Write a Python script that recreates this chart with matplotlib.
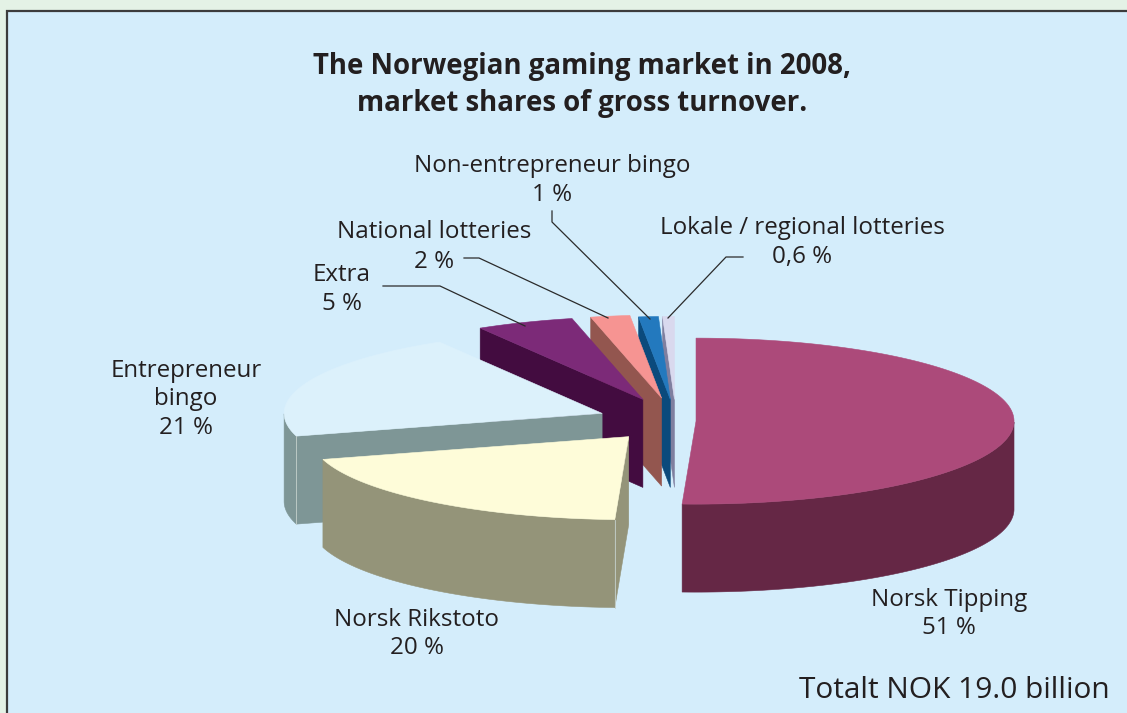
import numpy as np
import matplotlib
matplotlib.use("Agg")
import matplotlib.pyplot as plt
from matplotlib.patches import Polygon, Rectangle

# shares as printed on the chart, clockwise from twelve o'clock
names = ["Norsk Tipping", "Norsk Rikstoto", "Entrepreneur bingo", "Extra",
         "National lotteries", "Non-entrepreneur bingo", "Lokale / regional lotteries"]
shares = [51, 20, 21, 5, 2, 1, 0.6]
share_text = ["51 %", "20 %", "21 %", "5 %", "2 %", "1 %", "0,6 %"]

top_colors = ["#ac4a7a", "#fefcd9", "#dcf1fb", "#7c2a78", "#f69492", "#2379be", "#d9d9ee"]
side_colors = ["#652745", "#949479", "#7e9696", "#430c40", "#93564f", "#0b4a7c", "#7f7f9f"]
explode = [0.063, 0.24, 0.25, 0.28, 0.28, 0.26, 0.26]
seam_slices = [1, 2]

# pie geometry in figure pixels
cx, cy = 676, 421
rx, ry = 318, 83
depth = 88

plt.rcParams["font.family"] = ["Open Sans", "DejaVu Sans"]
text_color = "#231f20"

fig = plt.figure(figsize=(11.27, 7.13), dpi=100, facecolor="#e4f2e6")
ax = fig.add_axes([0, 0, 1, 1])
ax.set_xlim(0, 1127)
ax.set_ylim(713, 0)
ax.axis("off")

ax.add_patch(Rectangle((7, 11), 1130, 710, facecolor="#d4edfb", edgecolor="#3c3c3c", linewidth=1.6, zorder=0))


def rim(a, x0, y0):
    return x0 + rx * np.cos(a), y0 - ry * np.sin(a)


angles = 360 * np.cumsum([0] + shares) / sum(shares)
starts = np.radians(90 - angles[:-1])
ends = np.radians(90 - angles[1:])
mids = (starts + ends) / 2

# painted from the back slices to the front ones
order = [6, 5, 4, 3, 2, 1, 0]
z = 2
for i in order:
    a0, a1 = starts[i], ends[i]
    x0 = cx + explode[i] * rx * np.cos(mids[i])
    y0 = cy - explode[i] * ry * np.sin(mids[i])
    t = np.linspace(a0, a1, 160)
    xs, ys = rim(t, x0, y0)

    # cut face at the start of the slice
    if np.cos(a0) < 0:
        xr, yr = rim(a0, x0, y0)
        face = [(x0, y0), (xr, yr), (xr, yr + depth), (x0, y0 + depth)]
        ax.add_patch(Polygon(face, closed=True, facecolor=side_colors[i],
                             edgecolor=side_colors[i], linewidth=0.4, zorder=z))
        z += 1

    # outer wall, only the part that faces the viewer
    front = np.sin(t) <= 0
    if front.any():
        wx, wy = xs[front], ys[front]
        wall = np.vstack([np.column_stack([wx, wy]),
                          np.column_stack([wx[::-1], wy[::-1] + depth])])
        ax.add_patch(Polygon(wall, closed=True, facecolor=side_colors[i],
                             edgecolor=side_colors[i], linewidth=0.4, zorder=z))
        z += 1

    top = np.vstack([[x0, y0], np.column_stack([xs, ys])])
    ax.add_patch(Polygon(top, closed=True, facecolor=top_colors[i],
                         edgecolor=top_colors[i], linewidth=0.4, zorder=z))
    z += 1

    if i in seam_slices:
        xr, yr = rim(a0, x0, y0)
        ax.plot([xr, xr], [yr, yr + depth], color="#c5d0cc", linewidth=0.6, zorder=z)
        z += 1

# leader lines
leaders = [
    [(383, 286), (440, 286), (525, 326)],
    [(464, 258), (479, 258), (608, 318)],
    [(552, 211), (552, 222), (650, 319)],
    [(743, 257), (726, 257), (668, 318)],
]
for pts in leaders:
    ax.plot([p[0] for p in pts], [p[1] for p in pts], color="#2b2b2b", linewidth=0.9, zorder=40)

# each label line is its own text: x centre, then one baseline per line
label_x = [949, 417, 186, 342, 434, 552, 802]
label_y = [[606, 634], [626, 654], [377, 405, 434], [281, 310], [238, 268], [172, 201], [234, 263]]
label_lines = [[names[0]], [names[1]], ["Entrepreneur", "bingo"], [names[3]], [names[4]], [names[5]], [names[6]]]
for i in range(len(names)):
    lines = label_lines[i] + [share_text[i]]
    for line, ly in zip(lines, label_y[i]):
        ax.text(label_x[i], ly, line, ha="center", va="baseline", fontsize=17.4, color=text_color, zorder=50)

ax.text(582, 85, "The Norwegian gaming market in 2008,\nmarket shares of gross turnover.", ha="center", va="center",
        multialignment="center", fontsize=19.9, fontweight="bold", linespacing=1.37, color=text_color, zorder=50)
ax.text(1110, 691, "Totalt NOK 19.0 billion", ha="right", va="center", fontsize=21.5, color=text_color, zorder=50)

fig.savefig("out.png", dpi=100)
plt.close(fig)
